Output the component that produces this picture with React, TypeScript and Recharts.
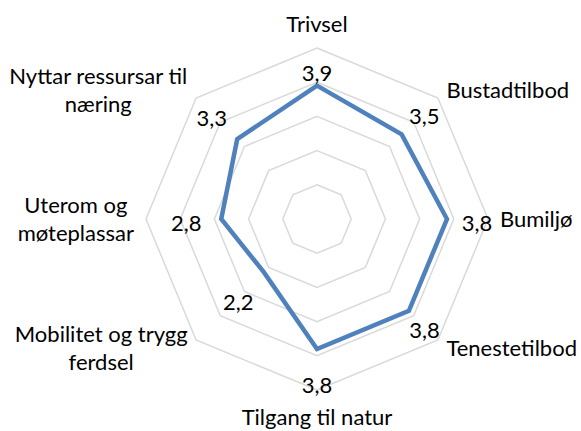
import React from 'react';
import {
  RadarChart,
  Radar,
  PolarGrid,
  PolarAngleAxis,
  PolarRadiusAxis,
  LabelList,
} from 'recharts';

// categories clockwise from the top
const categories = [
  'Trivsel',
  'Bustadtilbod',
  'Bumiljø',
  'Tenestetilbod',
  'Tilgang til natur',
  'Mobilitet og trygg ferdsel',
  'Uterom og møteplassar',
  'Nyttar ressursar til næring',
];
const scores = [3.9, 3.5, 3.8, 3.8, 3.8, 2.2, 2.8, 3.3];
const categoryLines = [
  ['Trivsel'],
  ['Bustadtilbod'],
  ['Bumiljø'],
  ['Tenestetilbod'],
  ['Tilgang til natur'],
  ['Mobilitet og trygg', 'ferdsel'],
  ['Uterom og', 'møteplassar'],
  ['Nyttar ressursar til', 'næring'],
];
const radiusDomain = [0, 5];

const chartData = categories.map((category, i) => ({ category, score: scores[i] }));

const WIDTH = 581;
const HEIGHT = 431;
const CX = 317;
const CY = 219;
const OUTER = 171;
const FONT = 'Lato, "Open Sans", sans-serif';
const FONT_SIZE = 22;
const LINE_H = 28;
const TEXT_COLOR = '#000000';
// distance from each point to the centre of its value label
const valueLabelGap = [17, 32, 30, 22, 32, 36, 35, 36];

let measureCtx: CanvasRenderingContext2D | null = null;
function textWidth(s: string) {
  if (!measureCtx) measureCtx = document.createElement('canvas').getContext('2d');
  if (!measureCtx) return s.length * FONT_SIZE * 0.5;
  measureCtx.font = `${FONT_SIZE}px Lato`;
  return measureCtx.measureText(s).width;
}

function CategoryTick(props: any) {
  const { x, y, cx, cy, payload } = props;
  const idx = categories.indexOf(payload.value);
  const lines = categoryLines[idx] ?? [String(payload.value)];
  const ox = x - cx;
  const oy = y - cy;
  const len = Math.hypot(ox, oy) || 1;
  const ux = ox / len;
  const uy = oy / len;
  const px = x + ux * 4;
  const py = y + uy * 4;
  const blockW = Math.max(...lines.map(textWidth));
  const blockH = lines.length * LINE_H;
  let centerX = px;
  let centerY = py;
  if (Math.abs(ux) < 0.2) {
    centerY = uy < 0 ? py - (blockH / 2 - 2) : py + blockH / 2 + 1;
  } else if (ux > 0) {
    centerX = px + blockW / 2;
  } else {
    centerX = px - blockW / 2;
  }
  const firstBaseline = centerY - blockH / 2 + LINE_H / 2 + FONT_SIZE * 0.36;
  return (
    <text textAnchor="middle" fontFamily={FONT} fontSize={FONT_SIZE} fill={TEXT_COLOR}>
      {lines.map((l, i) => (
        <tspan key={i} x={centerX} y={firstBaseline + i * LINE_H}>
          {l}
        </tspan>
      ))}
    </text>
  );
}

function ValueLabel(props: any) {
  const { value, index } = props;
  const x = props.x ?? props.viewBox?.x;
  const y = props.y ?? props.viewBox?.y;
  const ox = x - CX;
  const oy = y - CY;
  const len = Math.hypot(ox, oy) || 1;
  const gap = valueLabelGap[index] ?? 30;
  const lx = x + (ox / len) * gap;
  const ly = y + (oy / len) * gap + 4;
  return (
    <text
      x={lx}
      y={ly + FONT_SIZE * 0.36}
      textAnchor="middle"
      fontFamily={FONT}
      fontSize={FONT_SIZE}
      fill={TEXT_COLOR}
    >
      {String(value).replace('.', ',')}
    </text>
  );
}

export default function App() {
  return (
    <div style={{ position: 'absolute', left: 0, top: 0, background: '#fff' }}>
      <RadarChart
        width={WIDTH}
        height={HEIGHT}
        data={chartData}
        cx={CX}
        cy={CY}
        outerRadius={OUTER}
        margin={{ top: 0, right: 0, bottom: 0, left: 0 }}
      >
        <PolarGrid gridType="polygon" radialLines={false} stroke="#d9d9d9" strokeWidth={1.5} />
        <PolarAngleAxis
          dataKey="category"
          tick={<CategoryTick />}
          tickLine={false}
          axisLine={false}
        />
        <PolarRadiusAxis
          domain={radiusDomain}
          tickCount={6}
          tick={false}
          axisLine={false}
        />
        <Radar
          dataKey="score"
          stroke="#4f81bd"
          strokeWidth={4.5}
          fill="none"
          fillOpacity={0}
          dot={false}
          isAnimationActive={false}
        >
          <LabelList dataKey="score" content={<ValueLabel />} />
        </Radar>
      </RadarChart>
    </div>
  );
}
